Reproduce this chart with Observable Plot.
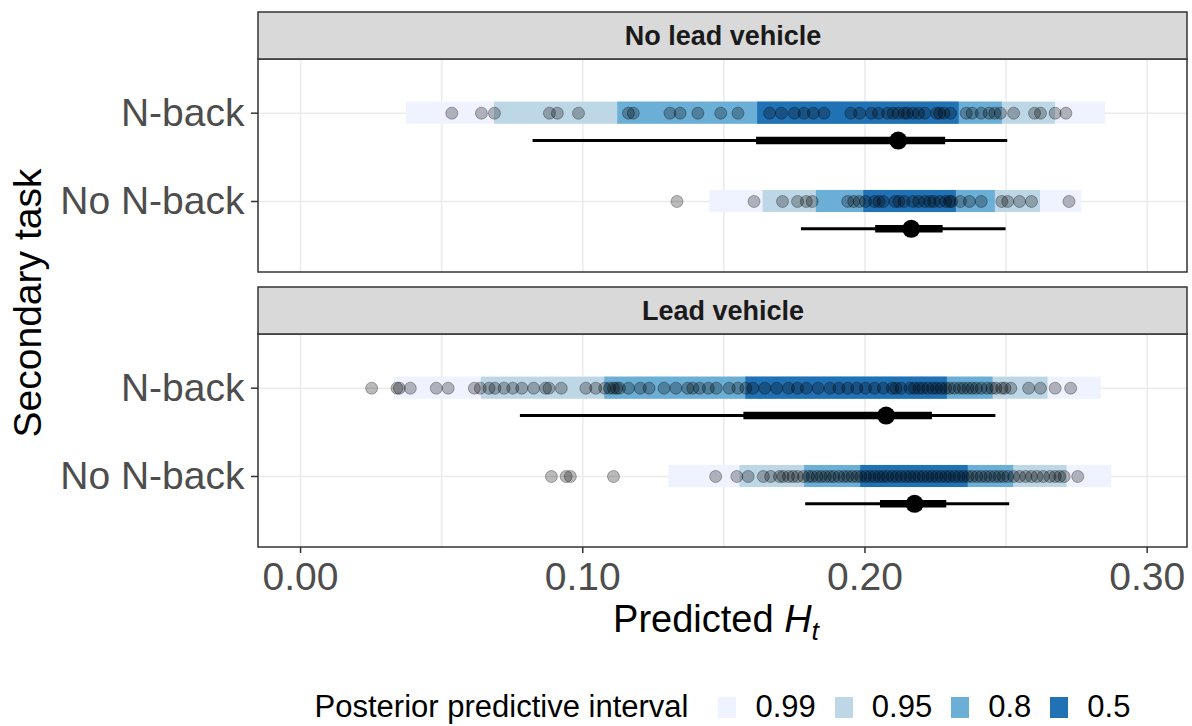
<!DOCTYPE html>
<html>
<head>
<meta charset="utf-8">
<script src="https://cdn.jsdelivr.net/npm/d3@7"></script>
<script src="https://cdn.jsdelivr.net/npm/@observablehq/plot@0.6"></script>
<style>
  body { margin: 0; background: #fff; font-family: "Liberation Sans", Arial, sans-serif; }
  #wrap { position: relative; width: 1192px; height: 726px; overflow: hidden; }
  #xtitle { position: absolute; left: 216px; width: 1000px; top: 597px; height: 45px; line-height: 45px;
            text-align: center; font-size: 38px; color: #000; }
  #xtitle sub { font-size: 0.7em; vertical-align: -0.3em; line-height: 0; }
  #legend { position: absolute; left: 258px; width: 929px; top: 692px; height: 30px; line-height: 30px;
            display: flex; justify-content: center; align-items: center; font-size: 31px; color: #000; }
  #legend .title { margin-right: 30px; }
  #legend .sw { width: 18px; height: 21px; margin-right: 19px; }
  #legend .lab { margin-right: 19px; }
</style>
</head>
<body>
<div id="wrap"></div>
<script>
// ---------------- data ----------------
const facets = ["No lead vehicle", "Lead vehicle"];
const tasks = ["N-back", "No N-back"];
const levels = [0.99, 0.95, 0.8, 0.5];
const levelColors = ["#eff3ff", "#bdd7e7", "#6baed6", "#2171b5"];
const xTickValues = [0, 0.1, 0.2, 0.3];
const xGridValues = [0, 0.05, 0.1, 0.15, 0.2, 0.25, 0.3];

// groups: [facet, task]
const groups = [
  ["No lead vehicle", "N-back"],
  ["No lead vehicle", "No N-back"],
  ["Lead vehicle", "N-back"],
  ["Lead vehicle", "No N-back"]
];
// posterior predictive intervals (per group, per level 0.99, 0.95, 0.8, 0.5)
const bandLower = [
  [0.0375, 0.0687, 0.1124, 0.1620],
  [0.1450, 0.1639, 0.1828, 0.1996],
  [0.0332, 0.0641, 0.1078, 0.1578],
  [0.1305, 0.1557, 0.1786, 0.1985]
];
const bandUpper = [
  [0.2853, 0.2675, 0.2487, 0.2334],
  [0.2769, 0.2622, 0.2462, 0.2324],
  [0.2838, 0.2649, 0.2454, 0.2292],
  [0.2874, 0.2716, 0.2527, 0.2366]
];
// point estimate with 66% and 95% intervals
const estMean = [0.2118, 0.2164, 0.2075, 0.2176];
const est66Lo = [0.1616, 0.2038, 0.1571, 0.2055];
const est66Hi = [0.2286, 0.2277, 0.2239, 0.2290];
const est95Lo = [0.0824, 0.1775, 0.0779, 0.1790];
const est95Hi = [0.2506, 0.2500, 0.2464, 0.2513];

// observed values
const obsNoLeadNback = [0.0536,0.0641,0.0687,0.0882,0.0910,0.0985,0.1162,0.1179,0.1309,0.1345,0.1408,0.1489,0.1550,0.1662,0.1704,0.1750,0.1784,0.1817,0.1855,0.1950,0.1981,0.2023,0.2048,0.2080,0.2100,0.2118,0.2139,0.2150,0.2170,0.2190,0.2212,0.2254,0.2265,0.2280,0.2303,0.2359,0.2380,0.2412,0.2440,0.2460,0.2480,0.2527,0.2601,0.2622,0.2674,0.2712];
const obsNoLeadNoNback = [0.1334,0.1607,0.1708,0.1761,0.1792,0.1813,0.1939,0.1960,0.1980,0.2002,0.2034,0.2050,0.2065,0.2107,0.2120,0.2139,0.2170,0.2190,0.2212,0.2230,0.2244,0.2265,0.2286,0.2300,0.2307,0.2338,0.2370,0.2412,0.2485,0.2506,0.2548,0.2590,0.2723];
const obsLeadNback = [0.0252,0.0342,0.0350,0.0389,0.0481,0.0523,0.0616,0.0637,0.0668,0.0689,0.0721,0.0752,0.0784,0.0826,0.0868,0.0880,0.0924,0.1011,0.1046,0.1078,0.1095,0.1109,0.1120,0.1130,0.1162,0.1204,0.1235,0.1288,0.1330,0.1372,0.1390,0.1414,0.1445,0.1473,0.1519,0.1550,0.1578,0.1603,0.1645,0.1687,0.1729,0.1761,0.1792,0.1834,0.1876,0.1908,0.1939,0.1971,0.2002,0.2034,0.2065,0.2097,0.2110,0.2128,0.2160,0.2175,0.2191,0.2205,0.2223,0.2240,0.2254,0.2270,0.2286,0.2300,0.2317,0.2335,0.2349,0.2365,0.2380,0.2395,0.2412,0.2433,0.2450,0.2464,0.2485,0.2496,0.2517,0.2580,0.2622,0.2674,0.2729];
const obsLeadNoNback = [0.0889,0.0941,0.0956,0.1109,0.1471,0.1546,0.1586,0.1640,0.1666,0.1697,0.1710,0.1729,0.1745,0.1761,0.1782,0.1800,0.1813,0.1830,0.1845,0.1860,0.1876,0.1890,0.1908,0.1925,0.1939,0.1955,0.1971,0.1985,0.2002,0.2018,0.2034,0.2050,0.2065,0.2080,0.2097,0.2112,0.2128,0.2145,0.2160,0.2175,0.2191,0.2207,0.2223,0.2238,0.2254,0.2270,0.2286,0.2300,0.2317,0.2333,0.2349,0.2365,0.2380,0.2396,0.2412,0.2428,0.2443,0.2460,0.2475,0.2490,0.2506,0.2527,0.2548,0.2570,0.2590,0.2610,0.2632,0.2655,0.2674,0.2690,0.2706,0.2754];
const obsByGroup = [obsNoLeadNback, obsNoLeadNoNback, obsLeadNback, obsLeadNoNback];

// ---------------- layout constants ----------------
const xDomain = [-0.0149, 0.3143];
const rowOf = {"N-back": 2, "No N-back": 1};
const yMin = 0.196, bodyTop = 2.608, stripTop = 3.140;
const bandHalf = 0.125;   // half height of interval bands (y units)
const piOffset = 0.31;    // pointinterval drawn below the bands

// ---------------- tables ----------------
const bands = [];
groups.forEach(([facet, task], gi) => {
  levels.forEach((level, li) => {
    bands.push({facet, task, level, lo: bandLower[gi][li], hi: bandUpper[gi][li]});
  });
});
const obs = [];
groups.forEach(([facet, task], gi) => {
  obsByGroup[gi].forEach(v => obs.push({facet, task, value: v}));
});
const est = groups.map(([facet, task], gi) => ({
  facet, task, mean: estMean[gi], lo66: est66Lo[gi], hi66: est66Hi[gi], lo95: est95Lo[gi], hi95: est95Hi[gi]
}));

const font = '"Liberation Sans", Arial, sans-serif';

const chart = Plot.plot({
  width: 1192,
  height: 600,
  marginLeft: 258,
  marginRight: 5,
  marginTop: 12,
  marginBottom: 53,
  style: {fontFamily: font, background: "#fff", overflow: "visible"},
  x: {domain: xDomain},
  y: {domain: [yMin, stripTop]},
  fy: {domain: facets, paddingInner: 15 / 275, paddingOuter: 0, axis: null},
  color: {type: "ordinal", domain: levels, range: levelColors},
  marks: [
    // grid
    Plot.ruleX(xGridValues, {y1: yMin, y2: bodyTop, stroke: "#ebebeb", strokeWidth: 1.6}),
    Plot.ruleY([1, 2], {x1: xDomain[0], x2: xDomain[1], stroke: "#ebebeb", strokeWidth: 1.6}),
    // interval bands
    Plot.rect(bands, {
      fy: "facet", x1: "lo", x2: "hi",
      y1: d => rowOf[d.task] - bandHalf, y2: d => rowOf[d.task] + bandHalf,
      fill: "level"
    }),
    // observed points
    Plot.dot(obs, {
      fy: "facet", x: "value", y: d => rowOf[d.task], r: 6,
      fill: "#000", fillOpacity: 0.27, stroke: "#000", strokeOpacity: 0.3, strokeWidth: 1
    }),
    // point + intervals
    Plot.ruleY(est, {fy: "facet", y: d => rowOf[d.task] - piOffset, x1: "lo95", x2: "hi95", stroke: "#000", strokeWidth: 3}),
    Plot.ruleY(est, {fy: "facet", y: d => rowOf[d.task] - piOffset, x1: "lo66", x2: "hi66", stroke: "#000", strokeWidth: 7.5}),
    Plot.dot(est, {fy: "facet", x: "mean", y: d => rowOf[d.task] - piOffset, r: 9, fill: "#000"}),
    // panel border
    Plot.rect([0], {x1: xDomain[0], x2: xDomain[1], y1: yMin, y2: bodyTop, fill: "none", stroke: "#333", strokeWidth: 1.5}),
    // strip
    Plot.rect([0], {x1: xDomain[0], x2: xDomain[1], y1: bodyTop, y2: stripTop, fill: "#d9d9d9", stroke: "#333", strokeWidth: 1.5}),
    Plot.text(facets, {
      fy: d => d, text: d => d,
      x: (xDomain[0] + xDomain[1]) / 2, y: (bodyTop + stripTop) / 2,
      fontSize: 27, fontWeight: "bold", fill: "#1a1a1a"
    }),
    // axes
    Plot.axisY({
      ticks: [2, 1], tickFormat: d => tasks.find(t => rowOf[t] === d),
      tickSize: 7, tickPadding: 7, fontSize: 39, fill: "#4d4d4d", stroke: "#333", strokeWidth: 1.5, label: null
    }),
    Plot.axisX({
      ticks: xTickValues, tickFormat: d => d.toFixed(2),
      tickSize: 6, tickPadding: 9, fontSize: 39, fill: "#4d4d4d", stroke: "#333", strokeWidth: 1.5, label: null
    })
  ]
});

// y axis title
d3.select(chart).append("text")
  .attr("transform", "translate(41,303) rotate(-90)")
  .attr("text-anchor", "middle")
  .attr("font-size", 39)
  .attr("font-family", font)
  .attr("fill", "#000")
  .text("Secondary task");

const wrap = document.getElementById("wrap");
wrap.appendChild(chart);

// x axis title
const xt = document.createElement("div");
xt.id = "xtitle";
xt.innerHTML = "Predicted <i>H</i><sub><i>t</i></sub>";
wrap.appendChild(xt);

// legend
const lg = document.createElement("div");
lg.id = "legend";
let html = '<span class="title">Posterior predictive interval</span>';
levels.forEach((l, i) => {
  html += `<span class="sw" style="background:${levelColors[i]}"></span><span class="lab"${i === levels.length - 1 ? ' style="margin-right:0"' : ''}>${l}</span>`;
});
lg.innerHTML = html;
wrap.appendChild(lg);
</script>
</body>
</html>
